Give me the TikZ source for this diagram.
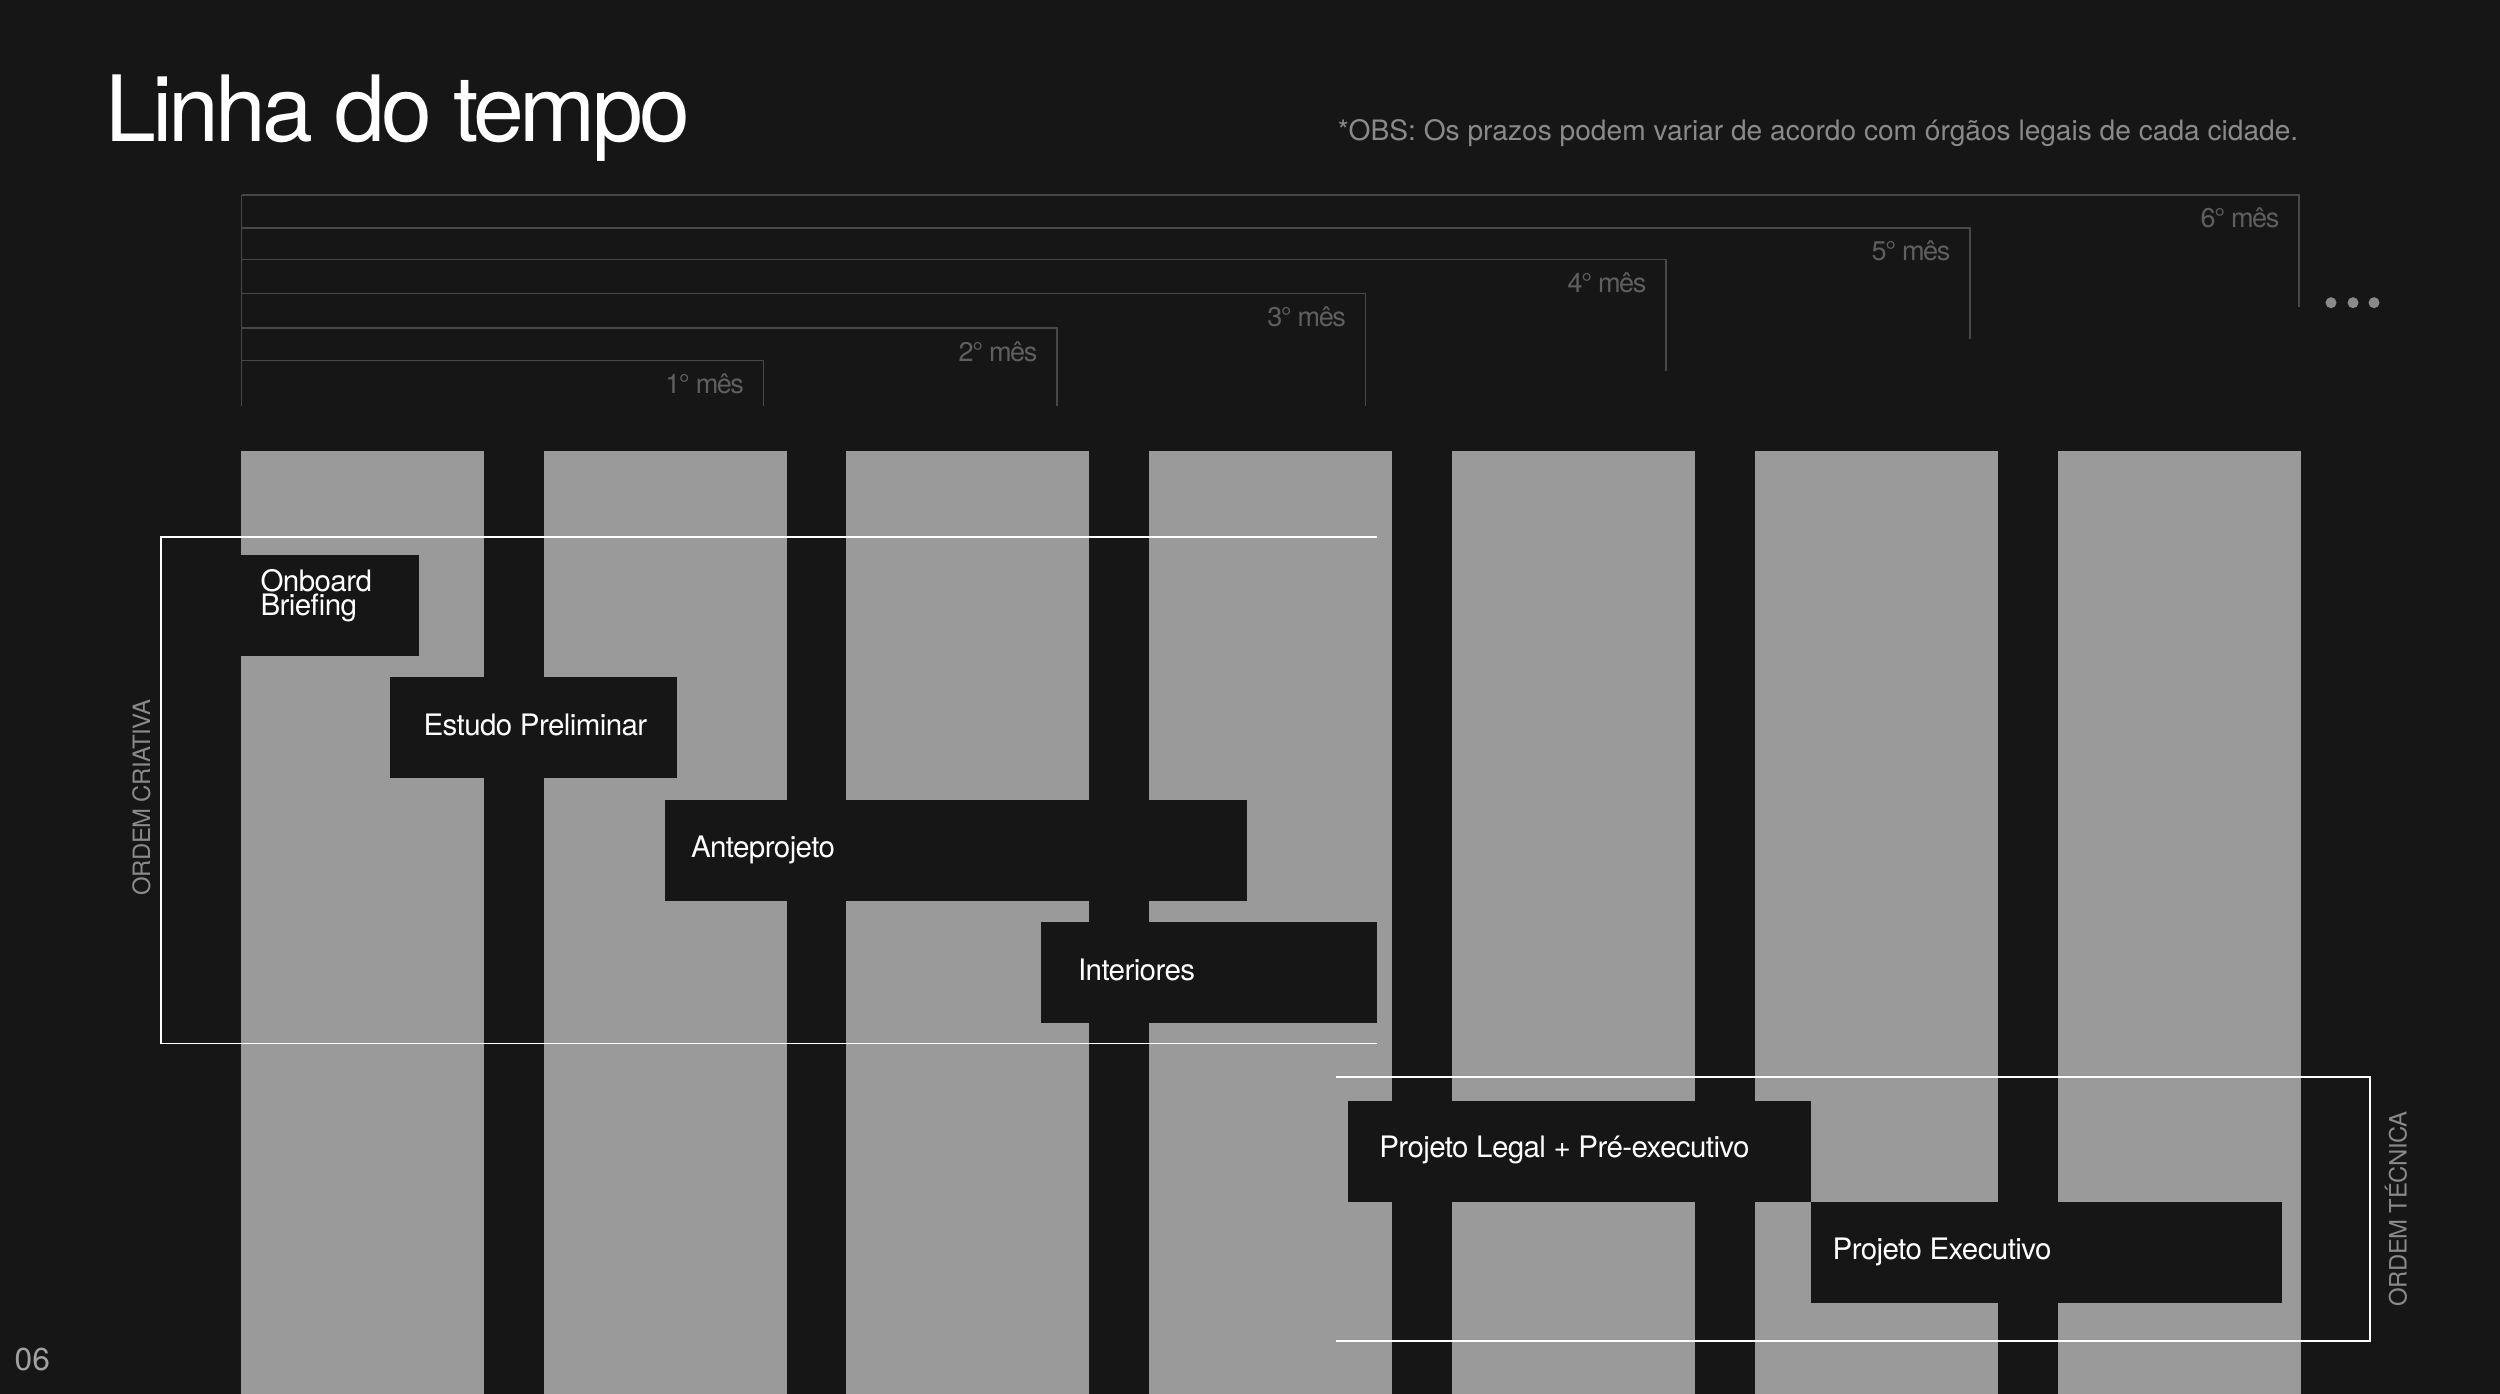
\documentclass[tikz,border=0pt]{standalone}
\usepackage{fontspec}
\setmainfont{TeX Gyre Heros}
\newfontfamily\titlefont[LetterSpace=-4.5]{TeX Gyre Heros}
\newfontfamily\tightfont[LetterSpace=-2]{TeX Gyre Heros}
\newfontfamily\monthfont[LetterSpace=-5.5]{TeX Gyre Heros}
\usetikzlibrary{calc}
\definecolor{bg}{HTML}{161616}
\definecolor{colgray}{HTML}{9A9A9A}
\definecolor{rulegray}{HTML}{484848}
\definecolor{monthgray}{HTML}{5F5F5F}
\definecolor{notegray}{HTML}{8A8A8A}
\tikzset{
  taskbox/.style={fill=bg, anchor=north west, inner sep=0pt, outer sep=0pt, minimum height=1.01cm},
  tasktext/.style={anchor=base west, inner sep=0pt, text=white, align=left,
    font=\fontsize{8.4}{6.8}\tightfont},
  monthline/.style={draw=rulegray, line width=0.4pt},
  monthlabel/.style={anchor=base east, inner sep=0pt, text=monthgray,
    font=\fontsize{7.7}{8}\monthfont},
  groupline/.style={draw=white, line width=0.45pt},
  grouplabel/.style={anchor=base, rotate=90, inner sep=0pt, text=notegray,
    font=\fontsize{6.8}{7}\tightfont},
}
\begin{document}
\begin{tikzpicture}[x=0.01cm, y=-0.01cm]
  \useasboundingbox (0,0) rectangle (2500,1394);
  \fill[bg] (0,0) rectangle (2500,1394);

  % titulo e nota
  \node[anchor=base west, inner sep=0pt, text=white, font=\fontsize{26}{26}\titlefont]
    (titulo) at (105,141.7) {Linha do tempo};
  \node[anchor=base east, inner sep=0pt, text=notegray, font=\fontsize{8}{8}\selectfont]
    (obs) at (2299,140) {*OBS: Os prazos podem variar de acordo com órgãos legais de cada cidade.};
  \node[anchor=base west, inner sep=0pt, text=notegray!80, font=\fontsize{9}{9}\selectfont]
    (pagina) at (14,1370) {06};

  % meses
  \draw[monthline] (241.5,195) -- (241.5,405.7);
  \foreach \y/\x/\b/\n in {360.7/763.7/405.7/1, 328/1057/405.7/2, 293.7/1365.6/405.7/3,
                           259.7/1666/371/4, 228/1970/339.3/5, 195/2299/306.7/6}{
    \draw[monthline] (241.5,\y) -- (\x,\y) -- (\x,\b);
    \node[monthlabel] (mes\n) at (\x-19,\y+33) {\n° mês};
  }
  \foreach \x in {2331,2353,2374}
    \fill[notegray] (\x,302.7) circle[radius=0.055cm];

  % colunas
  \foreach \i in {0,...,6}
    \fill[colgray] (240.8+302.8*\i,450.7) rectangle ++(243,943.3);

  % ordem criativa
  \draw[groupline] (1377,537.2) -- (161.2,537.2) -- (161.2,1043.6) -- (1377,1043.6);
  \node[grouplabel] (criativa) at (150,797.4) {ORDEM CRIATIVA};

  % ordem tecnica
  \draw[groupline] (1336,1076.7) -- (2370,1076.7) -- (2370,1341) -- (1336,1341);
  \node[grouplabel] (tecnica) at (2406.7,1209) {ORDEM TÉCNICA};

  % etapas
  \node[taskbox, minimum width=1.781cm] (onboard) at (240.8,554.7) {};
  \node[tasktext] at ($(onboard.north west)+(19,61)$) {Onboard\\Briefing};
  \node[taskbox, minimum width=2.867cm] (estudo) at (389.8,677.2) {};
  \node[tasktext] at ($(estudo.north west)+(33,58)$) {Estudo Preliminar};
  \node[taskbox, minimum width=5.819cm] (ante) at (664.8,799.7) {};
  \node[tasktext] at ($(ante.north west)+(25.5,58)$) {Anteprojeto};
  \node[taskbox, minimum width=3.357cm] (interiores) at (1041.3,921.7) {};
  \node[tasktext] at ($(interiores.north west)+(36,59)$) {Interiores};
  \node[taskbox, minimum width=4.632cm] (legal) at (1348,1100.7) {};
  \node[tasktext] at ($(legal.north west)+(30.6,56.6)$) {Projeto Legal + Pré-executivo};
  \node[taskbox, minimum width=4.708cm] (executivo) at (1811.2,1202) {};
  \node[tasktext] at ($(executivo.north west)+(20.7,57)$) {Projeto Executivo};
\end{tikzpicture}
\end{document}
